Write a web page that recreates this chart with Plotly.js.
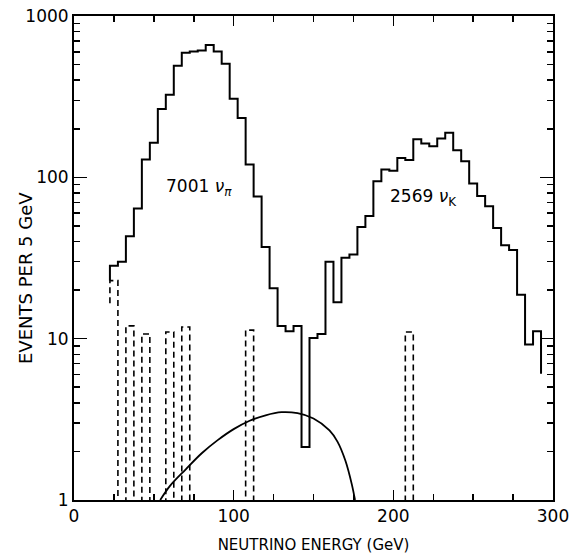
<!DOCTYPE html>
<html><head><meta charset="utf-8">
<script src="https://cdn.plot.ly/plotly-3.0.1.min.js"></script>
<style>html,body{margin:0;padding:0;background:#fff}</style>
</head><body><div id="chart" style="width:575px;height:558px"></div>
<script>
// ---- data ----
const binWidth = 5; // GeV
const binCenters = [25,30,35,40,45,50,55,60,65,70,75,80,85,90,95,100,105,110,115,120,
  125,130,135,140,145,150,155,160,165,170,175,180,185,190,195,200,205,210,215,220,
  225,230,235,240,245,250,255,260,265,270,275,280,285,290];
const solidCounts = [28.3,30.0,43.2,64,129,164,265,325,491,591,603,611,662,603,506,307,233,120,76,37,
  20.5,12.0,11.1,12.0,2.13,10.1,10.7,30.0,16.8,31.7,33.3,49.3,57.5,94.6,112,110,132,128,172,162,
  156,174,189,147,126,91.5,76.7,66.2,48.6,38.0,35.4,18.7,9.2,11.1];
const solidStart = 22.9;   // value where the solid left edge ends
const solidEnd = 6.06;     // value where the solid right edge ends
const dashedCenters = [25,35,45,60,70,110,210];
const dashedCounts = [22.9,12.0,10.7,11.0,11.8,11.3,11.0];
const dashedStart = 16.6;
const curveEnergy = [54,60,70,80,90,100,110,120,130,140,150,160,165,170,174,176];
const curveEvents = [1.0,1.22,1.55,1.95,2.35,2.75,3.1,3.35,3.5,3.45,3.2,2.7,2.3,1.75,1.25,1.0];
const xTickVals = [0,100,200,300];
const yTickVals = [1,10,100,1000];
const yMinorVals = [2,3,4,5,6,7,8,9,20,30,40,50,60,70,80,90,200,300,400,500,600,700,800,900];
const xTitle = 'NEUTRINO ENERGY (GeV)';
const yTitle = 'EVENTS PER 5 GeV';
const labelPi = {x: 78, y: 87, text: '7001 <i>ν</i><sub><i>π</i></sub>'};
const labelK = {x: 219, y: 75, text: '2569 <i>ν</i><sub>K</sub>'};

// ---- build step paths ----
const half = binWidth / 2;
const sx = [binCenters[0] - half], sy = [solidStart];
binCenters.forEach((c, i) => { sx.push(c - half); sy.push(solidCounts[i]); });
const lastEdge = binCenters[binCenters.length - 1] + half;
sx.push(lastEdge); sy.push(solidCounts[solidCounts.length - 1]);
sx.push(lastEdge); sy.push(solidEnd);

const LOW = 0.01;
const dStart = dashedCenters[0], dEnd = dashedCenters[dashedCenters.length - 1] + binWidth;
const dx = [dStart - half], dy = [dashedStart];
for (let c = dStart; c <= dEnd; c += binWidth) {
  const k = dashedCenters.indexOf(c);
  dx.push(c - half); dy.push(k >= 0 ? dashedCounts[k] : LOW);
}
dx.push(dEnd + half); dy.push(LOW);

const traces = [
  {x: sx, y: sy, mode: 'lines', line: {shape: 'hv', color: '#000', width: 2}, hoverinfo: 'skip'},
  {x: dx, y: dy, mode: 'lines', line: {shape: 'hv', color: '#000', width: 1.6, dash: '6px,4px'}, hoverinfo: 'skip'},
  {x: curveEnergy, y: curveEvents, mode: 'lines', line: {shape: 'spline', color: '#000', width: 1.8}, hoverinfo: 'skip'}
];

const font = {family: 'DejaVu Sans, sans-serif', color: '#000'};
const M = {l: 74, r: 22, t: 16, b: 58};
const W = 575, H = 558;
const layout = {
  width: W, height: H,
  margin: M,
  paper_bgcolor: '#fff', plot_bgcolor: '#fff',
  showlegend: false,
  font: Object.assign({size: 16}, font),
  xaxis: {
    range: [0, 300], showgrid: false, zeroline: false,
    showline: true, linecolor: '#000', linewidth: 2, mirror: 'ticks',
    ticks: 'inside', ticklen: 10, tickwidth: 1.5, tickcolor: '#000',
    tickmode: 'array', tickvals: xTickVals, ticktext: xTickVals.map(String),
    tickfont: Object.assign({size: 17}, font),
    minor: {dtick: 25, ticks: 'inside', ticklen: 6, tickwidth: 1.5, tickcolor: '#000', showgrid: false},
    title: {text: xTitle, font: Object.assign({size: 15}, font), standoff: 14}
  },
  yaxis: {
    type: 'log', range: [0, 3], showgrid: false, zeroline: false,
    showline: true, linecolor: '#000', linewidth: 2, mirror: 'ticks',
    ticks: 'inside', ticklen: 13, tickwidth: 1.5, tickcolor: '#000',
    tickmode: 'array', tickvals: yTickVals, ticktext: yTickVals.map(String),
    tickfont: Object.assign({size: 17}, font),
    minor: {tickmode: 'array', tickvals: yMinorVals, ticks: 'inside', ticklen: 6, tickwidth: 1.5, tickcolor: '#000', showgrid: false}
  },
  annotations: [labelPi, labelK].map(l => ({
    x: l.x, y: Math.log10(l.y), xref: 'x', yref: 'y', text: l.text, showarrow: false,
    font: Object.assign({size: 17}, font)
  })).concat([{
    // y-axis title, placed at ~25px from the left edge, centred ~278px from the top
    x: (25 - M.l) / (W - M.l - M.r), y: (H - M.b - 278) / (H - M.t - M.b),
    xref: 'paper', yref: 'paper', xanchor: 'center', yanchor: 'middle',
    text: yTitle, textangle: -90, showarrow: false, font: Object.assign({size: 18}, font)
  }])
};
Plotly.newPlot('chart', traces, layout, {staticPlot: true, displayModeBar: false});
</script>
</body></html>
